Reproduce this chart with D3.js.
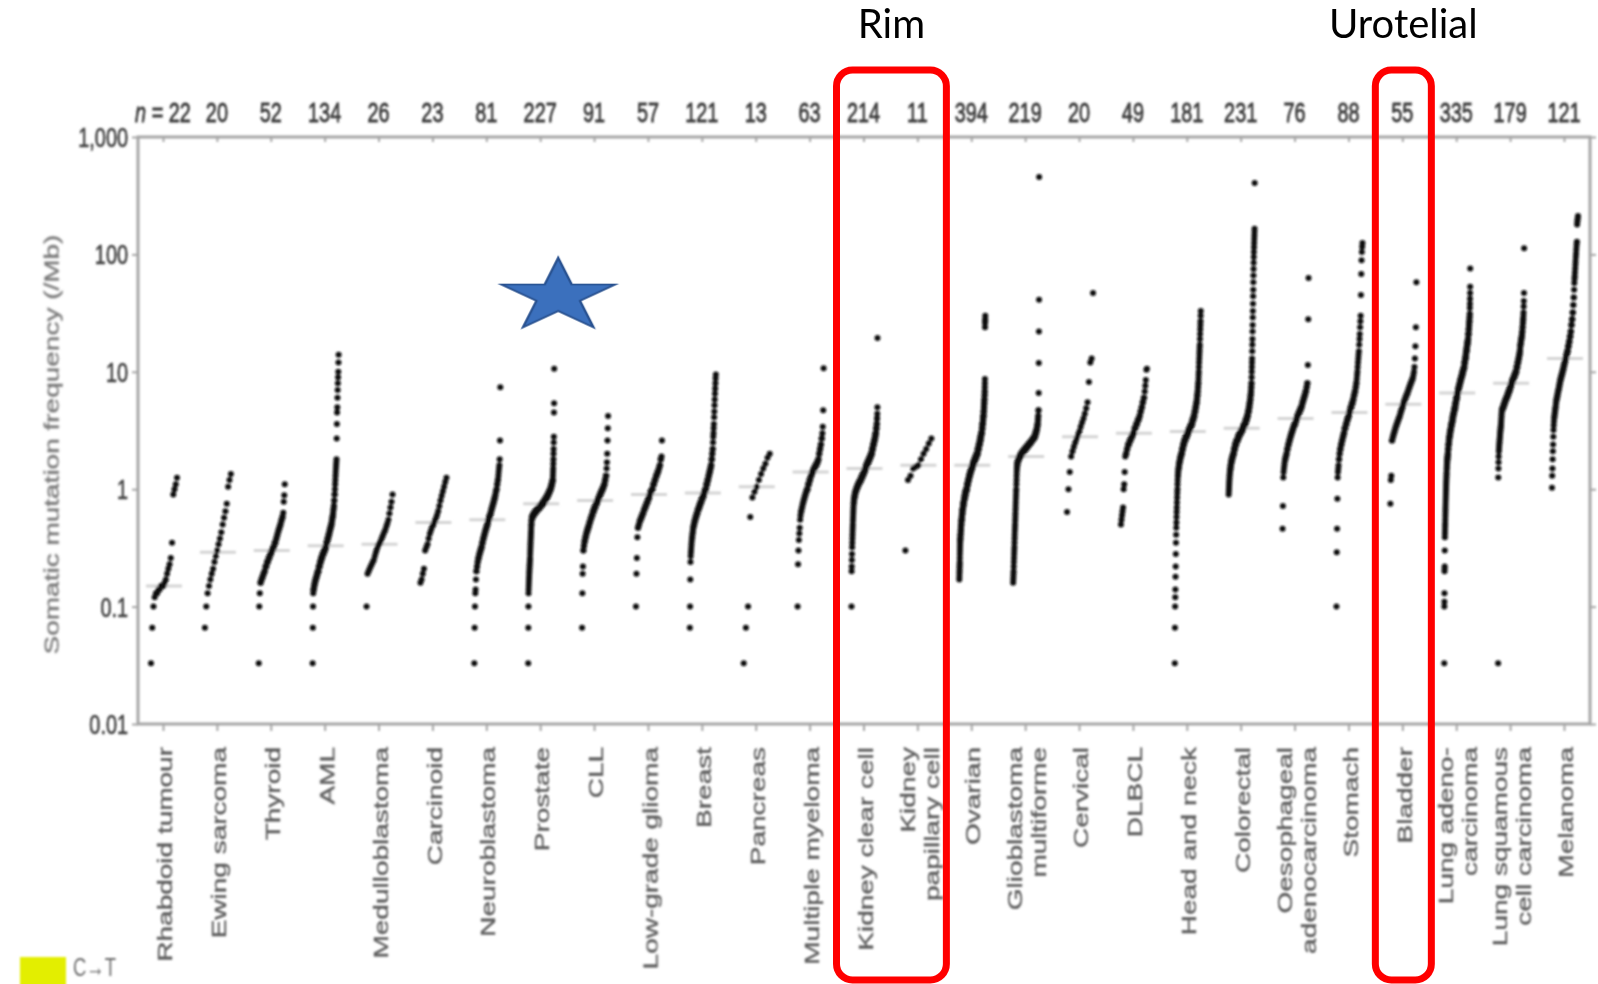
<!DOCTYPE html>
<html>
<head>
<meta charset="utf-8">
<script src="https://cdn.jsdelivr.net/npm/d3@7"></script>
<style>
  html, body { margin: 0; padding: 0; background: #ffffff; }
  svg { display: block; }
</style>
</head>
<body>
<svg id="chart" width="1598" height="984"></svg>
<script>
// ---------------------------------------------------------------
// Somatic mutation frequency (/Mb) per tumour type.
// Each list holds the sorted per-sample rates of one tumour type:
// a plain number is one sample, [value, k] is k samples at that value.
// ---------------------------------------------------------------
const categories = [
  "Rhabdoid tumour", "Ewing sarcoma", "Thyroid", "AML", "Medulloblastoma",
  "Carcinoid", "Neuroblastoma", "Prostate", "CLL", "Low-grade glioma",
  "Breast", "Pancreas", "Multiple myeloma", "Kidney clear cell", "Kidney papillary cell",
  "Ovarian", "Glioblastoma multiforme", "Cervical", "DLBCL", "Head and neck",
  "Colorectal", "Oesophageal adenocarcinoma", "Stomach", "Bladder", "Lung adenocarcinoma",
  "Lung squamous cell carcinoma", "Melanoma"
];

// axis text for each tumour type (one entry per line)
const categoryLabels = [
  ["Rhabdoid tumour"], ["Ewing sarcoma"], ["Thyroid"], ["AML"], ["Medulloblastoma"],
  ["Carcinoid"], ["Neuroblastoma"], ["Prostate"], ["CLL"], ["Low-grade glioma"],
  ["Breast"], ["Pancreas"], ["Multiple myeloma"], ["Kidney clear cell"], ["Kidney", "papillary cell"],
  ["Ovarian"], ["Glioblastoma", "multiforme"], ["Cervical"], ["DLBCL"], ["Head and neck"],
  ["Colorectal"], ["Oesophageal", "adenocarcinoma"], ["Stomach"], ["Bladder"], ["Lung adeno-", "carcinoma"],
  ["Lung squamous", "cell carcinoma"], ["Melanoma"]
];

const sampleCounts = [22, 20, 52, 134, 26, 23, 81, 227, 91, 57, 121, 13, 63, 214, 11,
                      394, 219, 20, 49, 181, 231, 76, 88, 55, 335, 179, 121];

const medianRates = [0.15, 0.29, 0.3, 0.33, 0.34, 0.52, 0.55, 0.75, 0.8, 0.9, 0.93, 1.05, 1.4, 1.5, 1.6,
                     1.6, 1.9, 2.8, 3.0, 3.1, 3.3, 4.0, 4.5, 5.3, 6.6, 8.0, 13];

const yTickValues = [0.01, 0.1, 1, 10, 100, 1000];
const yTickLabels = ["0.01", "0.1", "1", "10", "100", "1,000"];

const rhabdoid = [0.033,0.066,0.1,0.12,0.13,0.13,0.14,0.14,0.15,0.15,0.15,0.16,0.17,0.19,0.21,0.23,0.26,0.35,0.9,1.0,1.1,1.25];
const ewing = [0.066,0.1,0.13,0.15,0.17,0.19,0.21,0.24,0.27,0.3,0.34,0.38,0.43,0.5,0.57,0.65,0.75,1.05,1.2,1.35];
const thyroid = [0.033,0.1,0.13,[0.16,2],[0.17,2],[0.18,2],[0.19,2],[0.2,2],[0.22,3],[0.24,3],[0.26,3],[0.28,3],[0.3,3],
  [0.32,3],[0.35,3],[0.38,2],[0.41,2],[0.44,2],[0.47,2],[0.5,2],[0.54,2],[0.58,2],0.63,0.78,0.89,1.1];
const aml = [0.033,0.066,0.1,0.13,[0.14,3],[0.15,3],[0.16,4],[0.17,4],[0.18,4],[0.19,4],[0.2,5],[0.22,6],[0.24,6],
  [0.26,7],[0.28,7],[0.3,7],[0.32,6],[0.35,6],[0.38,5],[0.41,5],[0.44,4],[0.47,4],[0.5,4],[0.54,3],[0.58,3],
  [0.62,2],[0.67,2],[0.72,2],[0.8,2],[0.9,2],1.0,1.1,1.2,1.3,1.4,1.5,1.6,1.7,1.8,2.7,3.6,4.5,5,6,7,8,9,10,12,14];
const medulloblastoma = [0.1,0.19,0.2,0.21,0.22,0.23,0.24,0.25,0.27,0.29,0.31,0.33,0.34,0.35,0.37,0.39,0.41,0.43,
  0.45,0.48,0.51,0.55,0.62,0.7,0.78,0.9];
const carcinoid = [0.16,0.17,0.19,0.21,0.3,0.32,0.34,0.38,0.42,0.45,0.48,0.5,0.53,0.56,0.6,0.65,0.72,0.8,0.88,0.96,
  1.05,1.15,1.25];
const neuroblastoma = [0.033,0.066,0.1,0.13,0.14,0.17,[0.2,2],[0.22,2],[0.24,2],[0.26,3],[0.28,3],[0.3,3],[0.32,3],
  [0.35,3],[0.38,3],[0.41,3],[0.44,3],[0.47,3],[0.5,3],[0.54,3],[0.58,4],[0.62,3],[0.67,3],[0.72,3],[0.77,3],
  [0.83,3],[0.89,2],[0.95,2],[1.0,2],[1.1,2],[1.2,2],1.3,1.4,1.5,1.6,1.8,2.6,7.4];
const prostate = [0.033,0.066,0.1,0.13,0.14,0.15,0.16,0.17,0.18,0.19,0.2,0.21,0.22,0.23,0.24,0.25,0.26,0.28,0.3,
  0.32,0.34,0.36,0.38,0.4,0.42,0.44,0.47,[0.5,2],[0.54,2],[0.58,10],[0.61,14],[0.64,16],[0.67,18],[0.7,16],
  [0.73,16],[0.76,16],[0.8,14],[0.84,12],[0.88,10],[0.92,9],[0.96,8],[1.0,7],[1.05,6],[1.1,5],[1.15,4],[1.2,3],
  1.3,1.4,1.5,1.65,1.8,2.0,2.2,2.5,2.8,4.5,5.4,10.6];
const cll = [0.066,0.13,0.19,0.22,[0.3,2],[0.33,2],[0.36,3],[0.39,3],[0.42,3],[0.45,4],[0.48,4],[0.52,4],[0.56,4],
  [0.6,4],[0.65,5],[0.7,5],[0.75,5],[0.8,5],[0.85,4],[0.9,4],[0.95,4],[1.0,4],[1.05,3],[1.1,3],[1.2,3],[1.3,3],
  1.5,1.7,2.0,2.6,3.3,4.2];
const lowGradeGlioma = [0.1,0.19,0.26,0.39,[0.47,2],[0.5,2],[0.54,3],[0.58,3],[0.62,3],[0.67,3],[0.72,3],[0.77,3],
  [0.83,3],[0.89,2],[0.95,3],[1.0,3],[1.1,3],[1.2,3],[1.3,3],[1.4,3],[1.5,2],[1.6,2],[1.8,2],1.9,2.6];
const breast = [0.066,0.1,0.17,0.24,0.27,0.29,0.31,0.33,0.35,0.37,[0.39,2],[0.42,2],[0.45,2],[0.48,3],[0.51,3],
  [0.54,4],[0.58,5],[0.62,5],[0.67,6],[0.72,6],[0.77,6],[0.83,6],[0.89,6],[0.95,5],[1.0,5],[1.1,5],[1.2,5],
  [1.3,4],[1.4,4],[1.5,3],[1.6,3],[1.8,3],[2.0,2],[2.2,2],2.5,2.8,3.0,3.3,3.6,4.1,4.6,5.2,5.8,6.5,7.2,8.0,8.8,9.5];
const pancreas = [0.033,0.066,0.1,0.58,0.85,0.95,1.05,1.2,1.35,1.5,1.65,1.85,2.0];
const multipleMyeloma = [0.1,0.23,0.3,0.37,0.42,0.47,0.55,0.6,[0.65,2],[0.7,2],[0.75,2],[0.8,2],[0.85,2],[0.9,2],
  [0.95,2],[1.0,3],[1.1,3],[1.2,3],[1.3,3],[1.4,4],[1.5,4],[1.6,4],[1.7,3],[1.8,2],[2.0,2],[2.2,2],[2.4,2],[2.7,2],
  3.0,3.4,4.7,10.7];
const kidneyClearCell = [0.1,0.2,0.22,0.25,0.28,0.32,0.35,0.38,0.41,0.44,0.47,0.5,0.54,0.58,0.62,0.66,0.7,[0.75,2],
  [0.8,3],[0.85,4],[0.9,5],[0.95,6],[1.0,7],[1.05,8],[1.1,9],[1.15,10],[1.2,10],[1.27,10],[1.34,9],[1.42,10],
  [1.5,10],[1.6,10],[1.7,10],[1.8,10],[1.9,9],[2.0,9],[2.2,8],[2.4,8],[2.6,7],[2.8,6],[3.0,5],[3.3,4],[3.6,3],
  [4.0,2],4.4,5.0,19.4];
const kidneyPapillary = [0.3,1.2,1.3,1.5,1.55,1.6,1.8,2.0,2.2,2.45,2.7];
const ovarian = [0.17,0.18,0.19,0.2,0.21,0.22,0.23,0.24,0.26,0.28,0.3,0.32,0.34,[0.36,2],[0.38,3],[0.41,3],[0.44,3],
  [0.47,4],[0.5,4],[0.54,5],[0.58,5],[0.62,6],[0.67,7],[0.72,8],[0.77,9],[0.83,10],[0.89,11],[0.95,12],[1.0,13],
  [1.1,14],[1.2,15],[1.3,16],[1.4,16],[1.5,17],[1.6,17],[1.7,17],[1.8,16],[1.9,16],[2.0,16],[2.2,16],[2.4,15],
  [2.6,12],[2.8,11],[3.0,10],[3.3,8],[3.6,7],[3.9,6],[4.2,5],[4.6,4],[5.0,4],[5.4,3],[5.8,3],[6.3,2],[6.8,2],
  7.4,8.0,8.7,24,26,27,28,30];
const glioblastoma = [0.16,0.17,0.18,0.19,0.2,0.22,0.24,0.26,0.28,0.3,0.32,0.35,0.38,0.41,0.44,0.47,0.5,0.54,0.58,
  0.62,0.67,0.72,0.77,0.83,0.89,0.95,1.0,1.1,1.2,1.3,1.4,[1.5,2],[1.6,3],[1.7,4],[1.8,10],[1.9,14],[2.0,14],
  [2.1,16],[2.2,15],[2.3,15],[2.4,15],[2.5,13],[2.6,12],[2.7,12],[2.8,10],[3.0,8],[3.2,6],[3.4,4],[3.6,3],[3.9,3],
  [4.2,2],[4.7,2],6.6,11.9,22,41,456];
const cervical = [0.64,1.0,1.4,1.9,2.1,2.3,2.5,2.7,2.9,3.1,3.4,3.7,4.0,4.4,4.9,5.5,8.2,12,13,47];
const dlbcl = [0.5,0.55,0.6,0.65,0.7,1.0,1.1,1.4,1.9,[2.0,2],[2.2,2],[2.4,3],[2.6,3],[2.8,3],[3.0,3],[3.3,3],[3.6,3],
  [3.9,3],[4.2,2],[4.6,2],[5.0,2],[5.5,2],[6.0,2],6.8,7.6,8.5,10.4,10.6];
const headAndNeck = [0.033,0.066,0.1,0.12,0.14,0.18,0.22,0.28,0.35,0.41,0.47,0.52,0.58,0.64,0.7,0.77,0.85,0.93,1.0,
  1.1,1.2,[1.3,2],[1.4,2],[1.5,3],[1.6,3],[1.7,4],[1.8,4],[1.9,5],[2.0,6],[2.2,7],[2.4,8],[2.6,9],[2.8,10],
  [3.0,10],[3.2,10],[3.4,10],[3.6,8],[3.9,8],[4.2,7],[4.6,6],[5.0,5],[5.4,4],[5.8,3],[6.3,3],[6.8,2],[7.4,2],
  [8.0,2],8.7,9.4,10,11,12,13,14,15,16,17,19,21,23,25,27,30,33];
const colorectal = [0.9,0.95,1.0,1.05,1.1,1.15,1.2,1.25,1.3,1.35,[1.4,2],[1.45,2],[1.5,3],[1.6,4],[1.7,5],[1.8,6],
  [1.9,7],[2.0,7],[2.2,10],[2.4,12],[2.6,13],[2.8,14],[3.0,15],[3.2,15],[3.4,13],[3.6,12],[3.9,11],[4.2,9],[4.6,8],
  [5.0,6],[5.4,5],[5.8,4],[6.3,3],[6.8,3],[7.4,2],[8.0,2],9,10,11,12,13,15,17,19,22,25,29,33,38,44,50,58,66,75,85,
  95,105,115,125,135,145,155,165,405];
const oesophageal = [0.46,0.72,1.26,1.4,1.5,1.6,1.7,[1.8,2],[1.9,2],[2.0,2],[2.2,3],[2.4,3],[2.6,3],[2.8,3],[3.0,3],
  [3.2,3],[3.4,3],[3.6,4],[3.9,4],[4.2,4],[4.5,4],[4.8,4],[5.1,3],[5.5,3],[5.9,3],[6.3,3],[6.8,3],[7.4,2],[8.0,2],
  11.4,28,63];
const stomach = [0.1,0.29,0.46,0.83,1.26,1.4,1.5,1.6,[1.8,2],[2.0,2],[2.2,3],[2.4,3],[2.6,3],[2.8,3],[3.0,3],[3.3,4],
  [3.6,4],[3.9,4],[4.2,4],[4.6,4],[5.0,4],[5.4,4],[5.8,3],[6.3,3],[6.8,3],[7.4,2],[8.0,2],8.7,9.4,10,11,12,13,14,
  15,17,19,21,24,27,30,45,68,89,105,116,125];
const bladder = [0.75,1.2,1.3,[2.6,2],[2.8,2],[3.0,2],[3.2,2],[3.4,2],[3.6,2],[3.8,2],[4.0,2],[4.2,2],[4.5,2],[4.8,2],
  [5.1,2],[5.4,2],[5.7,2],[6.0,2],[6.3,2],[6.6,2],[7.0,2],[7.4,2],[7.8,2],[8.2,2],[8.6,2],9.0,9.5,10,11,13,16.5,
  24,58];
const lungAdeno = [0.033,0.1,0.11,0.13,0.2,0.21,0.22,0.3,0.39,0.42,0.45,0.48,0.51,0.55,0.59,0.63,0.67,0.71,0.75,0.8,
  0.85,0.9,0.95,1.0,1.05,1.1,1.15,1.2,1.25,1.3,1.35,1.4,[1.5,2],[1.6,2],[1.7,3],[1.8,3],[1.9,3],[2.0,4],[2.2,5],
  [2.4,5],[2.6,6],[2.8,6],[3.0,7],[3.2,7],[3.4,7],[3.6,7],[3.8,8],[4.1,9],[4.4,9],[4.7,9],[5.0,9],[5.4,8],[5.8,8],
  [6.2,8],[6.6,9],[7.0,9],[7.4,8],[7.8,8],[8.2,8],[8.6,8],[9.0,9],[9.5,9],[10,9],[10.5,8],[11,8],[12,8],[13,8],
  [14,6],[15,6],[16,6],[17,5],[18,5],[19,5],[21,5],[23,4],[25,4],[27,3],[29,2],[31,2],35,38,42,47,53,76];
const lungSquamous = [0.033,1.26,1.5,1.7,1.9,2.1,2.2,2.3,2.4,2.5,2.6,2.7,2.8,2.9,3.0,3.1,3.2,3.3,3.4,3.5,3.6,3.8,4.0,
  4.2,4.4,4.6,[4.8,6],[5.0,6],[5.3,7],[5.6,7],[5.9,7],[6.2,7],[6.6,8],[7.0,8],[7.5,7],[8.0,8],[8.5,8],[9.0,7],
  [9.5,7],[10,7],[11,7],[12,6],[13,5],[14,4],[15,3],16,[17,3],[18,3],[19,3],[20,2],[21,2],[22,2],[24,2],[26,2],
  [28,2],30,32,36,40,47,113];
const melanoma = [1.03,1.3,1.5,1.8,2.1,2.4,2.8,3.2,3.5,3.8,[4.1,2],[4.4,2],[4.7,2],[5.0,2],[5.4,2],[5.8,3],[6.2,3],
  [6.6,3],[7.0,3],[7.5,3],[8.0,3],[8.6,4],[9.2,4],[9.8,4],[10.5,4],[11.3,4],[12.2,4],[13,4],[14,4],[15,4],[16.5,4],
  [18,4],[20,4],[22,3],[25,3],[28,3],[32,3],[37,2],[43,2],50,57,62,65,70,76,82,88,95,102,110,118,125,128,180,190,
  197,205,212];

const series = [rhabdoid, ewing, thyroid, aml, medulloblastoma, carcinoid, neuroblastoma, prostate, cll,
  lowGradeGlioma, breast, pancreas, multipleMyeloma, kidneyClearCell, kidneyPapillary, ovarian, glioblastoma,
  cervical, dlbcl, headAndNeck, colorectal, oesophageal, stomach, bladder, lungAdeno, lungSquamous, melanoma];

// highlighted groups above the panel
const highlights = [
  { title: "Rim", members: ["Kidney clear cell", "Kidney papillary cell"] },
  { title: "Urotelial", members: ["Bladder"] }
];
const markedCategory = "Prostate";
const markedLevel = 44;

// ---------------------------------------------------------------
const svg = d3.select("#chart");
const plot = { left: 138, right: 1590, top: 137, bottom: 724 };
const squeeze = 0.71;       // the figure's lettering is horizontally condensed
const inkGrey = "#a5a5a5";

const y = d3.scaleLog().domain([0.01, 1000]).range([plot.bottom, plot.top]);
const x = d3.scalePoint().domain(categories).range([163, 1564]);

function expand(list) {
  const out = [];
  list.forEach(d => {
    if (Array.isArray(d)) { for (let k = 0; k < d[1]; k++) out.push(d[0]); }
    else out.push(d);
  });
  return out;
}

const defs = svg.append("defs");
defs.append("filter").attr("id", "soft")
  .attr("x", "-2%").attr("y", "-2%").attr("width", "104%").attr("height", "104%")
  .append("feGaussianBlur").attr("stdDeviation", 1.0);

svg.append("rect").attr("width", 1598).attr("height", 984).attr("fill", "#ffffff");

const fig = svg.append("g").attr("filter", "url(#soft)");

// median bars
fig.append("g").selectAll("line").data(categories).join("line")
  .attr("x1", d => x(d) - 17).attr("x2", d => x(d) + 19)
  .attr("y1", (d, i) => y(medianRates[i])).attr("y2", (d, i) => y(medianRates[i]))
  .attr("stroke", "#d4d4d4").attr("stroke-width", 3);

// frame
fig.append("rect")
  .attr("x", plot.left).attr("y", plot.top)
  .attr("width", plot.right - plot.left).attr("height", plot.bottom - plot.top)
  .attr("fill", "none").attr("stroke", inkGrey).attr("stroke-width", 3);

function styleAxis(g) {
  g.select(".domain").remove();
  g.selectAll(".tick line").attr("stroke", inkGrey).attr("stroke-width", 2);
}
fig.append("g").attr("transform", `translate(${plot.left},0)`)
  .call(d3.axisLeft(y).tickValues(yTickValues).tickFormat("").tickSizeInner(6).tickSizeOuter(0)).call(styleAxis);
fig.append("g").attr("transform", `translate(${plot.right},0)`)
  .call(d3.axisRight(y).tickValues(yTickValues).tickFormat("").tickSizeInner(6).tickSizeOuter(0)).call(styleAxis);
fig.append("g").attr("transform", `translate(0,${plot.bottom})`)
  .call(d3.axisBottom(x).tickFormat("").tickSizeInner(7).tickSizeOuter(0)).call(styleAxis);
fig.append("g").attr("transform", `translate(0,${plot.top})`)
  .call(d3.axisTop(x).tickFormat("").tickSizeInner(-5).tickSizeOuter(0)).call(styleAxis);

// sample dots: each tumour type spread left-to-right by rank
const dotGroup = fig.append("g").attr("fill", "#111111");
series.forEach((list, i) => {
  const vals = expand(list).sort((a, b) => a - b);
  const n = vals.length;
  const x0 = x(categories[i]) - 12, span = 26;
  dotGroup.append("g").selectAll("circle").data(vals).join("circle")
    .attr("cx", (v, r) => x0 + (n > 1 ? r / (n - 1) : 0.5) * span)
    .attr("cy", v => y(v))
    .attr("r", 3.0);
});

// y tick labels
const textFont = "'Liberation Sans', Arial, sans-serif";
fig.append("g").selectAll("g").data(yTickValues).join("g")
  .attr("transform", d => `translate(${plot.left - 10},${y(d)}) scale(${squeeze},1)`)
  .append("text")
  .attr("text-anchor", "end").attr("dy", "0.36em")
  .attr("font-family", textFont).attr("font-size", 28).attr("fill", "#404040")
  .attr("stroke", "#404040").attr("stroke-width", 0.7)
  .text((d, i) => yTickLabels[i]);

// sample counts along the top
const nLab = fig.append("g").selectAll("g").data(categories).join("g")
  .attr("transform", d => `translate(${x(d)},122) scale(${squeeze},1)`)
  .append("text")
  .attr("text-anchor", "middle")
  .attr("font-family", textFont).attr("font-size", 28).attr("fill", "#3a3a3a")
  .attr("stroke", "#3a3a3a").attr("stroke-width", 0.8);
nLab.each(function(d, i) {
  const t = d3.select(this);
  if (i === 0) {
    t.append("tspan").attr("font-style", "italic").text("n");
    t.append("tspan").text(" = " + sampleCounts[i]);
  } else {
    t.text(sampleCounts[i]);
  }
});

// tumour type names below the axis
categoryLabels.forEach((lines, i) => {
  const offs = lines.length === 1 ? [2] : [-10, 14];
  lines.forEach((line, k) => {
    fig.append("g")
      .attr("transform", `translate(${x(categories[i]) + offs[k]},747) scale(${squeeze},1) rotate(-90)`)
      .append("text")
      .attr("text-anchor", "end").attr("dy", "0.36em")
      .attr("font-family", textFont).attr("font-size", 28).attr("fill", "#5e5e5e")
      .attr("stroke", "#5e5e5e").attr("stroke-width", 0.5)
      .text(line);
  });
});

// y axis title
fig.append("g")
  .attr("transform", `translate(51,${(plot.top + plot.bottom) / 2 + 14}) scale(${squeeze},1) rotate(-90)`)
  .append("text")
  .attr("text-anchor", "middle").attr("dy", "0.36em")
  .attr("font-family", textFont).attr("font-size", 28).attr("fill", "#757575")
  .attr("stroke", "#757575").attr("stroke-width", 0.4)
  .text("Somatic mutation frequency (/Mb)");

// colour key fragment
fig.append("rect").attr("x", 20).attr("y", 957).attr("width", 46).attr("height", 32).attr("fill", "#e3ee00");
fig.append("g").attr("transform", `translate(73,976) scale(${squeeze},1)`)
  .append("text")
  .attr("font-family", textFont).attr("font-size", 26).attr("fill", "#6a6a6a")
  .text("C\u2192T");

// ---------------------------------------------------------------
// annotations
// ---------------------------------------------------------------
const ann = svg.append("g");

// star beside the marked tumour type
const starR = 60;
ann.append("path")
  .attr("d", d3.symbol(d3.symbolStar, (starR * starR) / 0.8908130915292852)())
  .attr("transform", `translate(${x(markedCategory) + 18},${y(markedLevel)}) scale(1,0.64)`)
  .attr("fill", "#3b70bd").attr("stroke", "#27508f").attr("stroke-width", 2.5);

// outlined groups with titles
highlights.forEach(h => {
  const xs = h.members.map(m => x(m));
  const left = d3.min(xs) - 27, right = d3.max(xs) + 29;
  ann.append("rect")
    .attr("x", left).attr("y", 70)
    .attr("width", right - left).attr("height", 910)
    .attr("rx", 16).attr("ry", 16)
    .attr("fill", "none").attr("stroke", "#ff0000").attr("stroke-width", 7);
  ann.append("text")
    .attr("x", (left + right) / 2).attr("y", 38)
    .attr("text-anchor", "middle")
    .attr("font-family", "Lato, 'Open Sans', sans-serif").attr("font-size", 40).attr("fill", "#000000")
    .text(h.title);
});
</script>
</body>
</html>
